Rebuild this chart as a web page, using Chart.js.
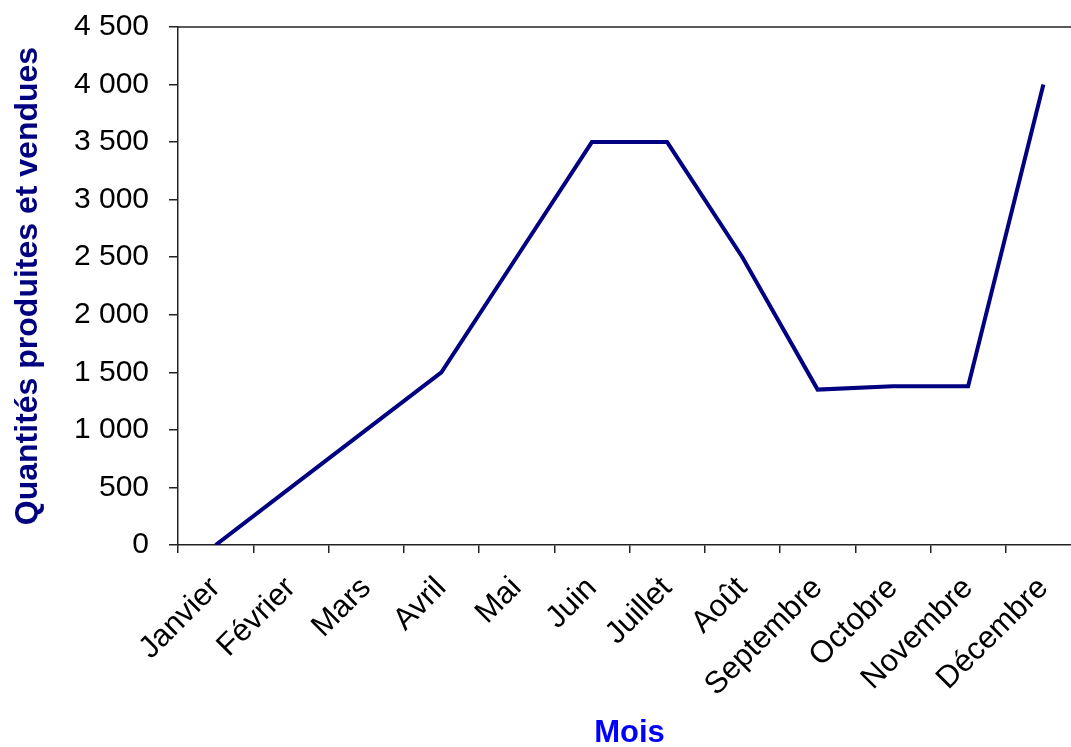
<!DOCTYPE html>
<html>
<head>
<meta charset="utf-8">
<script src="https://cdn.jsdelivr.net/npm/chart.js@4/dist/chart.umd.min.js"></script>
<style>
  html, body { margin: 0; padding: 0; background: #fff; overflow: hidden; }
  #wrap { position: relative; width: 1090px; height: 747px; }
</style>
</head>
<body>
<div id="wrap"><canvas id="c"></canvas></div>
<script>
const months = ['Janvier', 'Février', 'Mars', 'Avril', 'Mai', 'Juin', 'Juillet', 'Août', 'Septembre', 'Octobre', 'Novembre', 'Décembre'];
const quantities = [0, 500, 1000, 1500, 2500, 3500, 3500, 2500, 1350, 1380, 1380, 4000];
const yMin = 0, yMax = 4500, yStep = 500;
const yTitle = 'Quantités produites et vendues';
const xTitle = 'Mois';

const fmt = v => String(v).replace(/\B(?=(\d{3})+(?!\d))/g, ' ');

const topBorder = {
  id: 'topBorder',
  afterDraw(chart) {
    const a = chart.chartArea, ctx = chart.ctx;
    ctx.save();
    ctx.strokeStyle = '#222';
    ctx.lineWidth = 1.5;
    ctx.beginPath();
    ctx.moveTo(a.left, a.top);
    ctx.lineTo(a.right, a.top);
    ctx.stroke();
    ctx.restore();
  }
};

new Chart(document.getElementById('c'), {
  type: 'line',
  data: {
    labels: months,
    datasets: [{
      data: quantities,
      borderColor: '#000080',
      borderWidth: 4,
      pointRadius: 0,
      tension: 0,
      fill: false
    }]
  },
  options: {
    responsive: true,
    maintainAspectRatio: false,
    animation: false,
    layout: { padding: { top: 27, right: 9, left: 0, bottom: 0 } },
    plugins: { legend: { display: false }, tooltip: { enabled: false } },
    scales: {
      x: {
        offset: true,
        grid: { offset: true, drawOnChartArea: false, tickLength: 8, color: '#222', lineWidth: 1.5 },
        border: { color: '#222', width: 1.5 },
        ticks: {
          color: '#000', minRotation: 45, maxRotation: 45, padding: 17,
          font: { family: 'Liberation Sans, Arial, sans-serif', size: 31 }
        },
        title: {
          display: true, text: xTitle, color: '#0000FF',
          font: { family: 'Liberation Sans, Arial, sans-serif', size: 31, weight: 'bold', lineHeight: 0.85 },
          padding: { top: 0, bottom: 0 }
        },
        afterFit(s) { s.height = 202; }
      },
      y: {
        min: yMin, max: yMax,
        grid: { drawOnChartArea: false, tickLength: 9, color: '#222', lineWidth: 1.5 },
        border: { color: '#222', width: 1.5 },
        ticks: {
          stepSize: yStep, color: '#000', padding: 20,
          font: { family: 'Liberation Sans, Arial, sans-serif', size: 30 },
          callback: v => fmt(v)
        },
        title: {
          display: true, text: yTitle, color: '#000080',
          font: { family: 'Liberation Sans, Arial, sans-serif', size: 32, weight: 'bold', lineHeight: 1 },
          padding: { top: 12, bottom: 0 }
        },
        afterFit(s) { s.width = 178; s.paddingTop = 0; s.paddingBottom = 0; }
      }
    }
  },
  plugins: [topBorder]
});
</script>
</body>
</html>
